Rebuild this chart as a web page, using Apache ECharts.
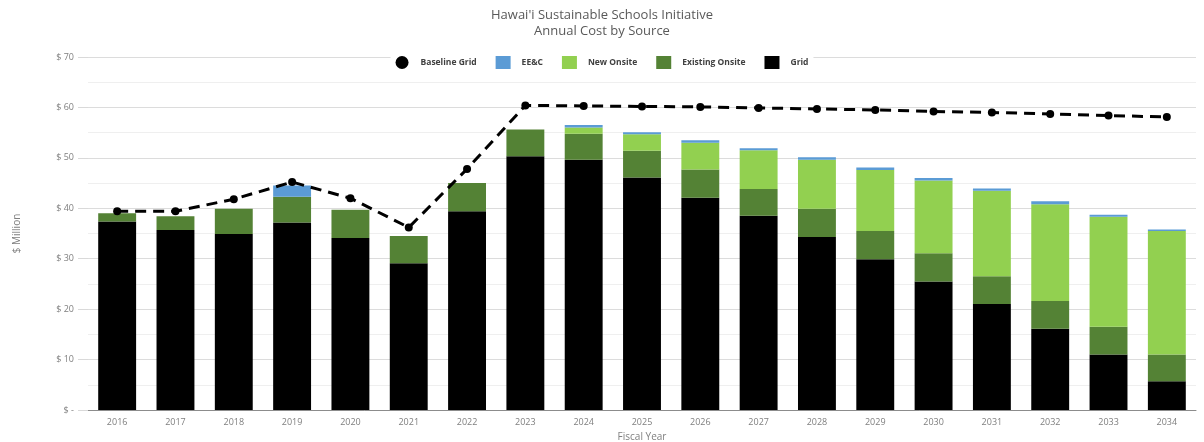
<!DOCTYPE html>
<html>
<head>
<meta charset="utf-8">
<script src="https://cdn.jsdelivr.net/npm/echarts@6/dist/echarts.min.js"></script>
<style>
  html, body { margin: 0; padding: 0; background: #fff; }
  #chart { width: 1204px; height: 442px; }
</style>
</head>
<body>
<div id="chart"></div>
<script>
// fiscal years
var years = ['2016', '2017', '2018', '2019', '2020', '2021', '2022', '2023', '2024', '2025',
  '2026', '2027', '2028', '2029', '2030', '2031', '2032', '2033', '2034'];

// $ million
var grid = [37.4, 35.7, 34.9, 37.2, 34.1, 29.1, 39.4, 50.3, 49.6, 46.1, 42.1, 38.5, 34.3, 29.9, 25.5, 21.0, 16.1, 11.0, 5.7];
var existingOnsite = [1.6, 2.7, 5.0, 5.1, 5.6, 5.4, 5.6, 5.3, 5.2, 5.3, 5.6, 5.3, 5.6, 5.6, 5.6, 5.5, 5.5, 5.5, 5.3];
var newOnsite = [0, 0, 0, 0, 0, 0, 0, 0, 1.2, 3.3, 5.3, 7.7, 9.7, 12.1, 14.4, 17.0, 19.2, 21.8, 24.5];
var eec = [0, 0, 0, 2.2, 0, 0, 0, 0, 0.5, 0.4, 0.5, 0.4, 0.5, 0.5, 0.5, 0.4, 0.6, 0.4, 0.3];
var baselineGrid = [39.4, 39.4, 41.8, 45.2, 42.0, 36.2, 47.8, 60.4, 60.3, 60.2, 60.1, 59.9, 59.7, 59.5, 59.2, 59.0, 58.7, 58.4, 58.1];

var font = 'Open Sans';
var chart = echarts.init(document.getElementById('chart'));

function barSeries(name, data, color) {
  return {
    name: name,
    type: 'bar',
    stack: 'cost',
    barWidth: '65%',
    data: data,
    itemStyle: { color: color },
    emphasis: { disabled: true }
  };
}

chart.setOption({
  animation: false,
  textStyle: { fontFamily: font },
  title: {
    text: "Hawai'i Sustainable Schools Initiative\nAnnual Cost by Source",
    left: 'center',
    top: 2,
    textStyle: { color: '#595959', fontSize: 13, fontWeight: 'normal', lineHeight: 16, fontFamily: font }
  },
  legend: {
    top: 51,
    left: 'center',
    backgroundColor: '#fff',
    itemGap: 19,
    itemWidth: 15,
    itemHeight: 13,
    textStyle: { color: '#404040', fontSize: 8.5, fontWeight: 'bold', fontFamily: font, padding: [0, 0, 0, 6] },
    data: [
      { name: 'Baseline Grid', icon: 'circle' },
      { name: 'EE&C', icon: 'rect' },
      { name: 'New Onsite', icon: 'rect' },
      { name: 'Existing Onsite', icon: 'rect' },
      { name: 'Grid', icon: 'rect' }
    ]
  },
  grid: { left: 88, right: 8, top: 57, bottom: 32, outerBoundsMode: 'none' },
  xAxis: {
    type: 'category',
    data: years,
    name: 'Fiscal Year',
    nameLocation: 'middle',
    nameGap: 22,
    nameTextStyle: { color: '#7f7f7f', fontSize: 10 },
    axisLine: { lineStyle: { color: '#8c8c8c', width: 1 } },
    axisTick: { show: false },
    axisLabel: { color: '#7f7f7f', fontSize: 9, margin: 8 }
  },
  yAxis: {
    type: 'value',
    min: 0,
    max: 70,
    interval: 10,
    name: '$ Million',
    nameLocation: 'middle',
    nameGap: 66,
    nameRotate: 90,
    nameTextStyle: { color: '#7f7f7f', fontSize: 10 },
    axisLine: { show: false },
    axisTick: { show: true, length: 10, lineStyle: { color: '#d9d9d9' } },
    minorTick: { show: false, splitNumber: 2 },
    axisLabel: {
      color: '#7f7f7f',
      fontSize: 9,
      margin: 14,
      formatter: function (v) { return v === 0 ? '$ -' : '$ ' + v; }
    },
    splitLine: { lineStyle: { color: '#dcdcdc' } },
    minorSplitLine: { show: true, lineStyle: { color: '#efefef' } }
  },
  series: [
    barSeries('Grid', grid, '#000000'),
    barSeries('Existing Onsite', existingOnsite, '#548235'),
    barSeries('New Onsite', newOnsite, '#92d050'),
    barSeries('EE&C', eec, '#5b9bd5'),
    {
      name: 'Baseline Grid',
      type: 'line',
      data: baselineGrid,
      symbol: 'circle',
      symbolSize: 8,
      itemStyle: { color: '#000' },
      lineStyle: { color: '#000', width: 3, type: [11, 7] },
      z: 5
    }
  ]
});
</script>
</body>
</html>
